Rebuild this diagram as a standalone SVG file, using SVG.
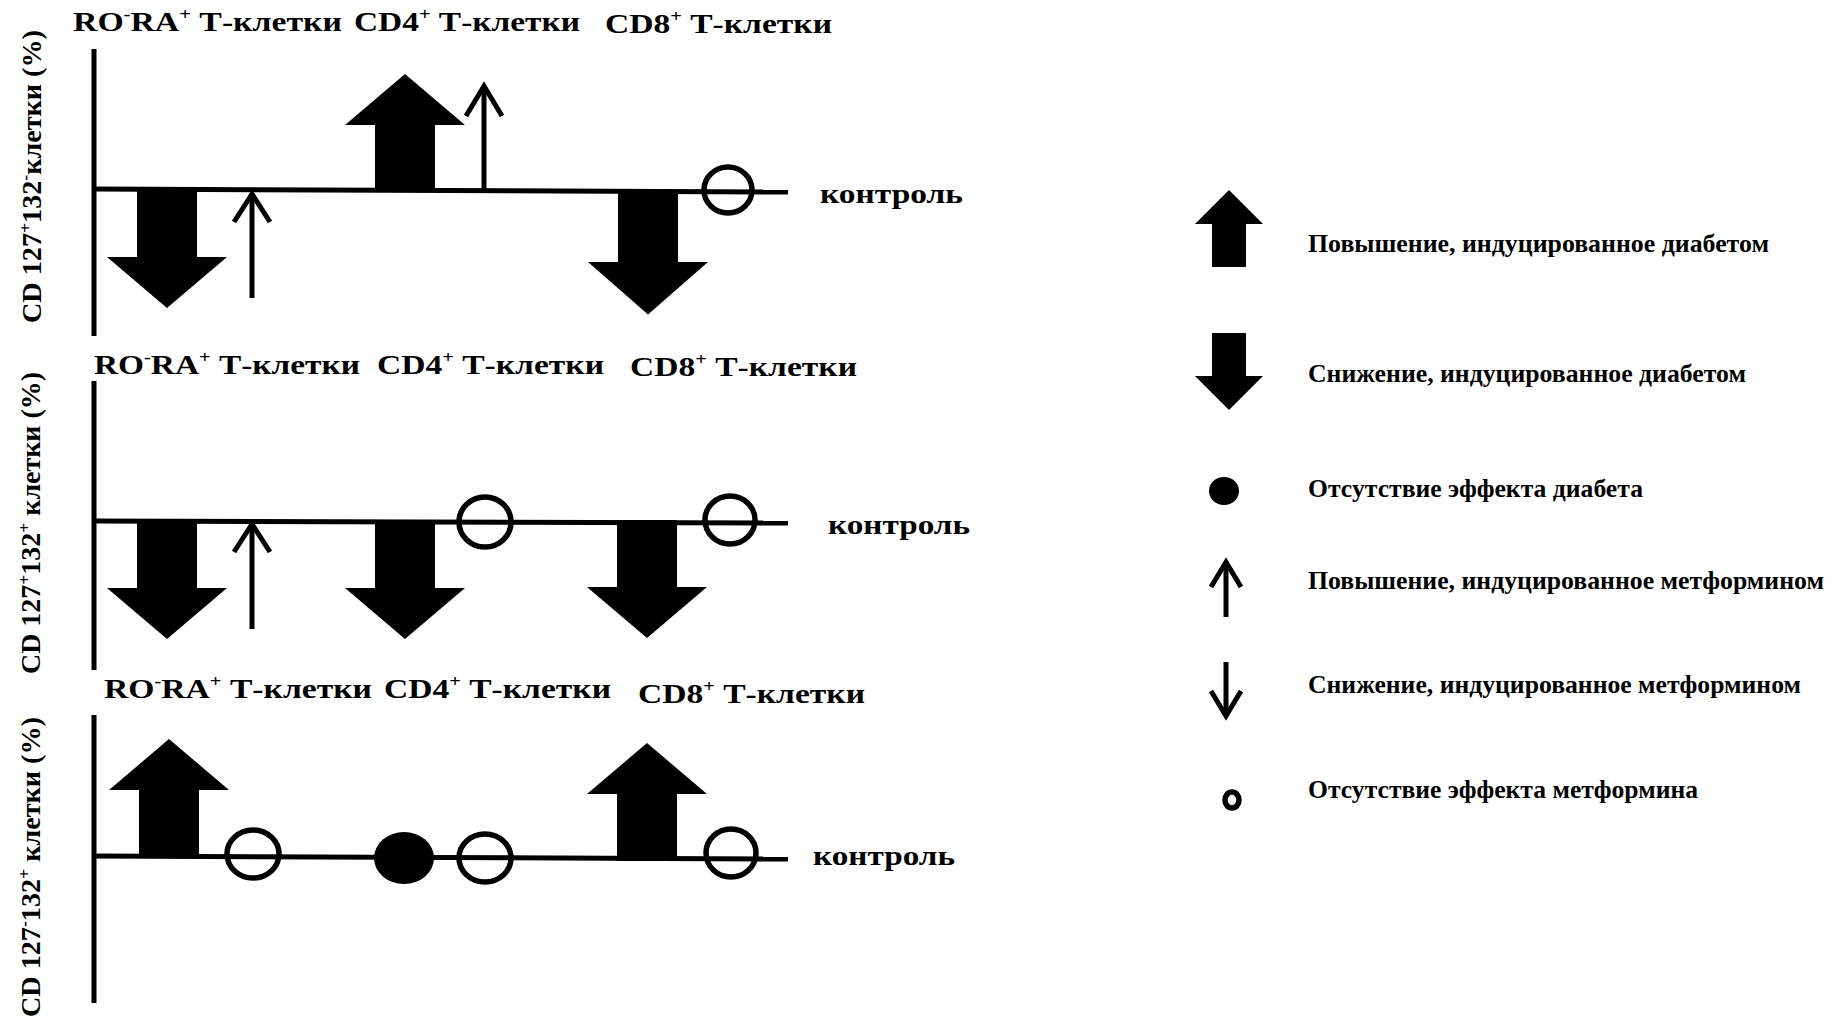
<svg xmlns="http://www.w3.org/2000/svg" xmlns:xlink="http://www.w3.org/1999/xlink" width="1838" height="1019" viewBox="0 0 1838 1019">
<style>
.lbl{font-family:"Liberation Serif","Times New Roman",serif;font-weight:bold;font-size:28px;fill:#000}
.ylbl{font-family:"Liberation Serif","Times New Roman",serif;font-weight:bold;font-size:27px;fill:#000}
.leg{font-family:"Liberation Serif","Times New Roman",serif;font-weight:bold;font-size:25px;fill:#000}
.axis{stroke:#000;stroke-width:5;fill:none}
.thin{stroke:#000;stroke-width:5;fill:none;stroke-linecap:butt}
.ring{stroke:#000;stroke-width:5.5;fill:none}
.big{fill:#000}
</style>
<defs>
<path id="bigDown" d="M-30,0 H30 V67 H60 L0,118 L-60,67 H-30 Z"/>
<path id="legDown" d="M-17,0 H17 V43 H34 L0,77 L-34,43 H-17 Z"/>
</defs>
<rect width="1838" height="1019" fill="#fff"/>

<g id="axes">
<line class="axis" x1="94" y1="49" x2="94" y2="336"/>
<line class="axis" x1="94" y1="189" x2="788" y2="192"/>
<line class="axis" x1="94" y1="381" x2="94" y2="670"/>
<line class="axis" x1="94" y1="521" x2="788" y2="523"/>
<line class="axis" x1="94" y1="715" x2="94" y2="1003"/>
<line class="axis" x1="94" y1="856" x2="788" y2="859"/>
</g>

<g id="panel1">
<g id="p1-ylabel"><text class="ylbl" transform="translate(41,323) rotate(-90)" textLength="293" lengthAdjust="spacingAndGlyphs">CD 127<tspan font-size="17" dy="-10">+</tspan><tspan dy="10">132</tspan><tspan font-size="17" dy="-10">-</tspan><tspan dy="10">клетки (%)</tspan></text></g>
<g id="p1-label-rora"><text class="lbl" x="73" y="31" textLength="269" lengthAdjust="spacingAndGlyphs">RO<tspan font-size="17" dy="-11">-</tspan><tspan dy="11">RA</tspan><tspan font-size="17" dy="-11">+</tspan><tspan dy="11"> Т-клетки</tspan></text></g>
<g id="p1-label-cd4"><text class="lbl" x="354" y="31" textLength="226" lengthAdjust="spacingAndGlyphs">CD4<tspan font-size="17" dy="-11">+</tspan><tspan dy="11"> Т-клетки</tspan></text></g>
<g id="p1-label-cd8"><text class="lbl" x="605" y="33" textLength="227" lengthAdjust="spacingAndGlyphs">CD8<tspan font-size="17" dy="-11">+</tspan><tspan dy="11"> Т-клетки</tspan></text></g>
<g id="p1-rora-diab"><use xlink:href="#bigDown" class="big" transform="translate(167,190)"/></g>
<g id="p1-rora-met"><line class="thin" x1="252" y1="298" x2="252" y2="194"/><polyline class="thin" points="234,222 252,194 270,222"/></g>
<g id="p1-cd4-diab"><use xlink:href="#bigDown" class="big" transform="translate(405,192) scale(1,-1)"/></g>
<g id="p1-cd4-met"><line class="thin" x1="484" y1="190" x2="484" y2="86"/><polyline class="thin" points="466,116 484,86 502,116"/></g>
<g id="p1-cd8-diab"><use xlink:href="#bigDown" class="big" transform="translate(648,193) scale(1,1.03)"/></g>
<g id="p1-cd8-met"><ellipse class="ring" cx="728" cy="190" rx="24" ry="23"/></g>
<g id="p1-control"><text class="lbl" x="820" y="203" textLength="143" lengthAdjust="spacingAndGlyphs">контроль</text></g>
</g>

<g id="panel2">
<g id="p2-ylabel"><text class="ylbl" transform="translate(40,674) rotate(-90)" textLength="302" lengthAdjust="spacingAndGlyphs">CD 127<tspan font-size="17" dy="-10">+</tspan><tspan dy="10">132</tspan><tspan font-size="17" dy="-10">+</tspan><tspan dy="10"> клетки (%)</tspan></text></g>
<g id="p2-label-rora"><text class="lbl" x="94" y="374" textLength="266" lengthAdjust="spacingAndGlyphs">RO<tspan font-size="17" dy="-11">-</tspan><tspan dy="11">RA</tspan><tspan font-size="17" dy="-11">+</tspan><tspan dy="11"> Т-клетки</tspan></text></g>
<g id="p2-label-cd4"><text class="lbl" x="377" y="374" textLength="227" lengthAdjust="spacingAndGlyphs">CD4<tspan font-size="17" dy="-11">+</tspan><tspan dy="11"> Т-клетки</tspan></text></g>
<g id="p2-label-cd8"><text class="lbl" x="630" y="376" textLength="227" lengthAdjust="spacingAndGlyphs">CD8<tspan font-size="17" dy="-11">+</tspan><tspan dy="11"> Т-клетки</tspan></text></g>
<g id="p2-rora-diab"><use xlink:href="#bigDown" class="big" transform="translate(167,521)"/></g>
<g id="p2-rora-met"><line class="thin" x1="252" y1="629" x2="252" y2="524"/><polyline class="thin" points="234,552 252,524 270,552"/></g>
<g id="p2-cd4-diab"><use xlink:href="#bigDown" class="big" transform="translate(405,521)"/></g>
<g id="p2-cd4-met"><ellipse class="ring" cx="485" cy="522" rx="26" ry="25"/></g>
<g id="p2-cd8-diab"><use xlink:href="#bigDown" class="big" transform="translate(647,520)"/></g>
<g id="p2-cd8-met"><ellipse class="ring" cx="730" cy="520" rx="25" ry="24"/></g>
<g id="p2-control"><text class="lbl" x="828" y="534" textLength="142" lengthAdjust="spacingAndGlyphs">контроль</text></g>
</g>

<g id="panel3">
<g id="p3-ylabel"><text class="ylbl" transform="translate(40,1017) rotate(-90)" textLength="300" lengthAdjust="spacingAndGlyphs">CD 127<tspan font-size="17" dy="-10">-</tspan><tspan dy="10">132</tspan><tspan font-size="17" dy="-10">+</tspan><tspan dy="10"> клетки (%)</tspan></text></g>
<g id="p3-label-rora"><text class="lbl" x="104" y="698" textLength="268" lengthAdjust="spacingAndGlyphs">RO<tspan font-size="17" dy="-11">-</tspan><tspan dy="11">RA</tspan><tspan font-size="17" dy="-11">+</tspan><tspan dy="11"> Т-клетки</tspan></text></g>
<g id="p3-label-cd4"><text class="lbl" x="384" y="698" textLength="227" lengthAdjust="spacingAndGlyphs">CD4<tspan font-size="17" dy="-11">+</tspan><tspan dy="11"> Т-клетки</tspan></text></g>
<g id="p3-label-cd8"><text class="lbl" x="638" y="703" textLength="227" lengthAdjust="spacingAndGlyphs">CD8<tspan font-size="17" dy="-11">+</tspan><tspan dy="11"> Т-клетки</tspan></text></g>
<g id="p3-rora-diab"><use xlink:href="#bigDown" class="big" transform="translate(169,857) scale(1,-1)"/></g>
<g id="p3-rora-met"><ellipse class="ring" cx="253" cy="854" rx="26" ry="24"/></g>
<g id="p3-cd4-diab"><ellipse fill="#000" cx="404" cy="858" rx="30" ry="26"/></g>
<g id="p3-cd4-met"><ellipse class="ring" cx="485" cy="858" rx="26" ry="24"/></g>
<g id="p3-cd8-diab"><use xlink:href="#bigDown" class="big" transform="translate(647,861) scale(1,-1)"/></g>
<g id="p3-cd8-met"><ellipse class="ring" cx="731" cy="853" rx="25" ry="24"/></g>
<g id="p3-control"><text class="lbl" x="813" y="865" textLength="142" lengthAdjust="spacingAndGlyphs">контроль</text></g>
</g>

<g id="legend">
<g id="leg-diab-up"><use xlink:href="#legDown" class="big" transform="translate(1229,267) scale(1,-1)"/><text class="leg" x="1308" y="252" textLength="461" lengthAdjust="spacingAndGlyphs">Повышение, индуцированное диабетом</text></g>
<g id="leg-diab-down"><use xlink:href="#legDown" class="big" transform="translate(1229,333)"/><text class="leg" x="1308" y="382" textLength="438" lengthAdjust="spacingAndGlyphs">Снижение, индуцированное диабетом</text></g>
<g id="leg-diab-none"><ellipse fill="#000" cx="1224" cy="491" rx="15" ry="14"/><text class="leg" x="1308" y="497" textLength="335" lengthAdjust="spacingAndGlyphs">Отсутствие эффекта диабета</text></g>
<g id="leg-met-up"><line class="thin" x1="1226" y1="617" x2="1226" y2="562"/><polyline class="thin" points="1211,587 1226,562 1241,587"/><text class="leg" x="1308" y="589" textLength="516" lengthAdjust="spacingAndGlyphs">Повышение, индуцированное метформином</text></g>
<g id="leg-met-down"><line class="thin" x1="1226" y1="662" x2="1226" y2="716"/><polyline class="thin" points="1211,691 1226,716 1241,691"/><text class="leg" x="1308" y="693" textLength="493" lengthAdjust="spacingAndGlyphs">Снижение, индуцированное метформином</text></g>
<g id="leg-met-none"><ellipse class="ring" cx="1232" cy="800" rx="7" ry="8"/><text class="leg" x="1308" y="798" textLength="390" lengthAdjust="spacingAndGlyphs">Отсутствие эффекта метформина</text></g>
</g>
</svg>
